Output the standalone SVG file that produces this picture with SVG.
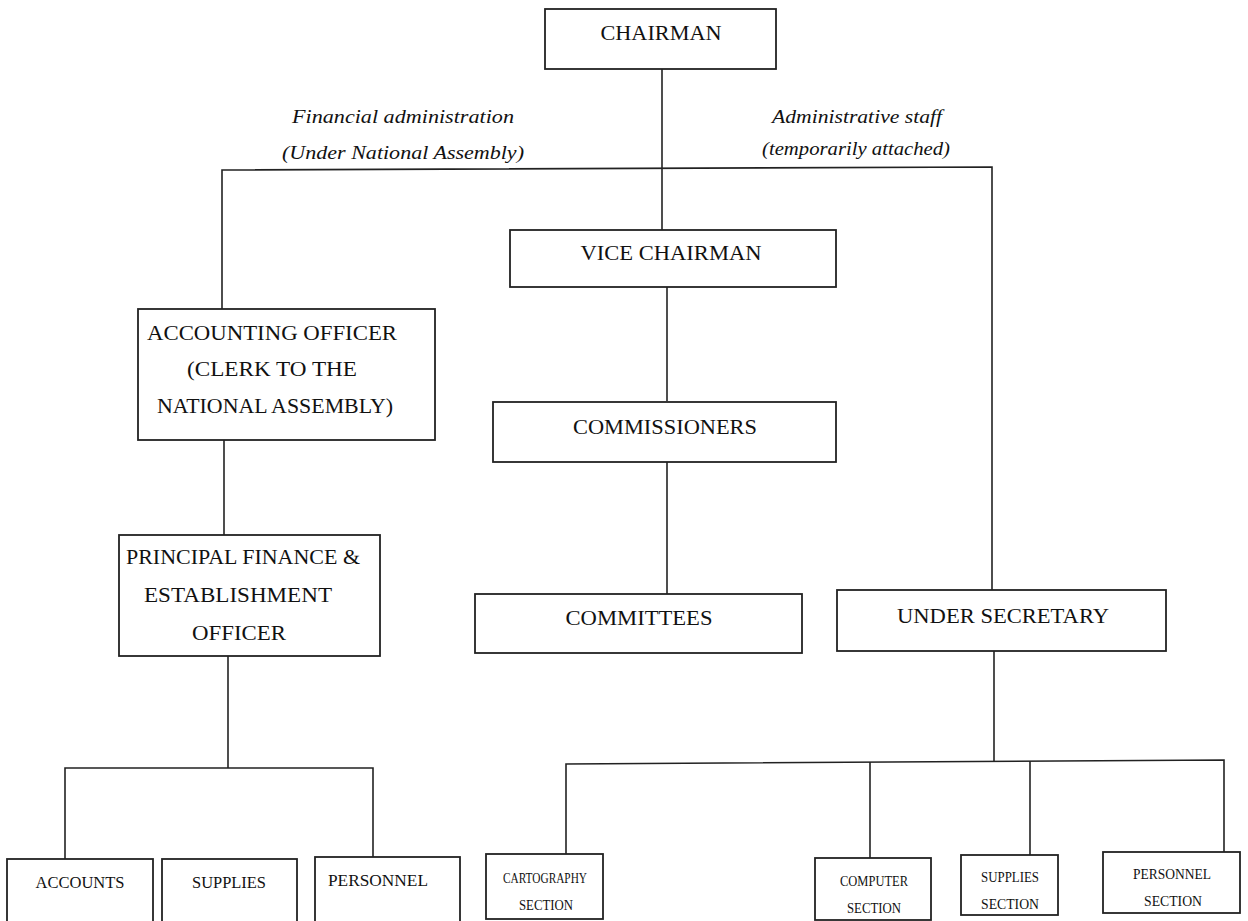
<svg xmlns="http://www.w3.org/2000/svg" width="1248" height="921" viewBox="0 0 1248 921">
<style>
.box{fill:#fff;stroke:#222;stroke-width:1.8}
.ln{fill:none;stroke:#222;stroke-width:1.6}
.t{font-family:"Liberation Serif",serif;fill:#111;text-anchor:middle}
.L{font-size:21px}
.M{font-size:17px}
.S{font-size:15px}
.it{font-family:"Liberation Serif",serif;font-style:italic;fill:#111;text-anchor:middle;font-size:19px}
</style>
<rect width="1248" height="921" fill="#fff"/>
<g id="connectors">
<path class="ln" d="M662 69V230"/>
<path class="ln" d="M222 309V170L992 167V590"/>
<path class="ln" d="M667 287V401"/>
<path class="ln" d="M667 462V594"/>
<path class="ln" d="M224 440V535"/>
<path class="ln" d="M228 656V768"/>
<path class="ln" d="M65 860V768H373V858"/>
<path class="ln" d="M994 651V762"/>
<path class="ln" d="M566 855V764L1224 760V853"/>
<path class="ln" d="M870 858V762"/>
<path class="ln" d="M1030 855V761"/>
</g>
<g id="labels">
<text class="it" x="403" y="123" textLength="222" lengthAdjust="spacingAndGlyphs">Financial administration</text>
<text class="it" x="403" y="159" textLength="242" lengthAdjust="spacingAndGlyphs">(Under National Assembly)</text>
<text class="it" x="857" y="123" textLength="170" lengthAdjust="spacingAndGlyphs">Administrative staff</text>
<text class="it" x="856" y="155" textLength="188" lengthAdjust="spacingAndGlyphs">(temporarily attached)</text>
</g>
<g id="chairman">
<rect class="box" x="545" y="9" width="231" height="60"/>
<text class="t L" x="661" y="40" textLength="121" lengthAdjust="spacingAndGlyphs">CHAIRMAN</text>
</g>
<g id="vice-chairman">
<rect class="box" x="510" y="230" width="326" height="57"/>
<text class="t L" x="671" y="260" textLength="181" lengthAdjust="spacingAndGlyphs">VICE CHAIRMAN</text>
</g>
<g id="commissioners">
<rect class="box" x="493" y="402" width="343" height="60"/>
<text class="t L" x="665" y="434" textLength="184" lengthAdjust="spacingAndGlyphs">COMMISSIONERS</text>
</g>
<g id="committees">
<rect class="box" x="475" y="594" width="327" height="59"/>
<text class="t L" x="639" y="625" textLength="147" lengthAdjust="spacingAndGlyphs">COMMITTEES</text>
</g>
<g id="under-secretary">
<rect class="box" x="837" y="590" width="329" height="61"/>
<text class="t L" x="1003" y="623" textLength="212" lengthAdjust="spacingAndGlyphs">UNDER SECRETARY</text>
</g>
<g id="accounting-officer">
<rect class="box" x="138" y="309" width="297" height="131"/>
<text class="t L" x="272" y="340" textLength="250" lengthAdjust="spacingAndGlyphs">ACCOUNTING OFFICER</text>
<text class="t L" x="272" y="376" textLength="170" lengthAdjust="spacingAndGlyphs">(CLERK TO THE</text>
<text class="t L" x="275" y="413" textLength="236" lengthAdjust="spacingAndGlyphs">NATIONAL ASSEMBLY)</text>
</g>
<g id="principal-finance">
<rect class="box" x="119" y="535" width="261" height="121"/>
<text class="t L" x="243" y="564" textLength="234" lengthAdjust="spacingAndGlyphs">PRINCIPAL FINANCE &amp;</text>
<text class="t L" x="238" y="602" textLength="188" lengthAdjust="spacingAndGlyphs">ESTABLISHMENT</text>
<text class="t L" x="239" y="640" textLength="94" lengthAdjust="spacingAndGlyphs">OFFICER</text>
</g>
<g id="accounts">
<rect class="box" x="7" y="859" width="146" height="70"/>
<text class="t M" x="80" y="888" textLength="89" lengthAdjust="spacingAndGlyphs">ACCOUNTS</text>
</g>
<g id="supplies">
<rect class="box" x="162" y="859" width="135" height="70"/>
<text class="t M" x="229" y="888" textLength="74" lengthAdjust="spacingAndGlyphs">SUPPLIES</text>
</g>
<g id="personnel">
<rect class="box" x="315" y="857" width="145" height="70"/>
<text class="t M" x="378" y="886" textLength="100" lengthAdjust="spacingAndGlyphs">PERSONNEL</text>
</g>
<g id="cartography-section">
<rect class="box" x="486" y="854" width="117" height="65"/>
<text class="t S" x="545" y="883" textLength="84" lengthAdjust="spacingAndGlyphs">CARTOGRAPHY</text>
<text class="t S" x="546" y="910" textLength="54" lengthAdjust="spacingAndGlyphs">SECTION</text>
</g>
<g id="computer-section">
<rect class="box" x="815" y="858" width="116" height="62"/>
<text class="t S" x="874" y="886" textLength="68" lengthAdjust="spacingAndGlyphs">COMPUTER</text>
<text class="t S" x="874" y="913" textLength="54" lengthAdjust="spacingAndGlyphs">SECTION</text>
</g>
<g id="supplies-section">
<rect class="box" x="961" y="855" width="97" height="60"/>
<text class="t S" x="1010" y="882" textLength="58" lengthAdjust="spacingAndGlyphs">SUPPLIES</text>
<text class="t S" x="1010" y="909" textLength="58" lengthAdjust="spacingAndGlyphs">SECTION</text>
</g>
<g id="personnel-section">
<rect class="box" x="1103" y="852" width="137" height="61"/>
<text class="t S" x="1172" y="879" textLength="78" lengthAdjust="spacingAndGlyphs">PERSONNEL</text>
<text class="t S" x="1173" y="906" textLength="58" lengthAdjust="spacingAndGlyphs">SECTION</text>
</g>
</svg>
